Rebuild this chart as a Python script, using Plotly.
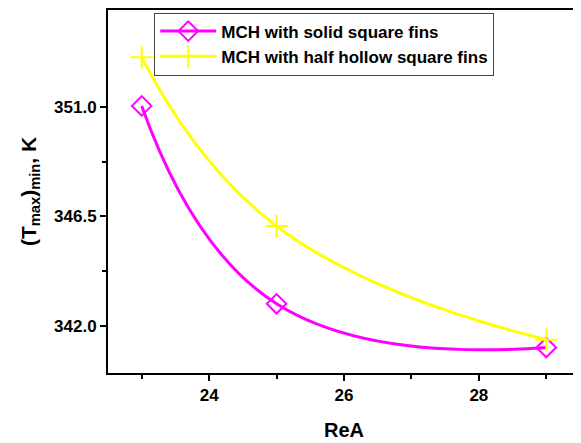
import plotly.graph_objects as go

rea = [23, 25, 29]
solid_fins = [351.05, 342.9, 341.1]
half_hollow_fins = [353.05, 346.1, 341.42]
x_ticks = [24, 26, 28]
y_ticks = [342.0, 346.5, 351.0]
y_tick_labels = ["342.0", "346.5", "351.0"]

FONT = "Liberation Sans, Arial, sans-serif"

fig = go.Figure()
fig.add_trace(go.Scatter(
    x=rea, y=solid_fins, mode="lines+markers",
    name="MCH with solid square fins",
    line=dict(color="#FF00FF", width=3, shape="spline", smoothing=1.3),
    marker=dict(symbol="diamond-open", size=15, color="#FF00FF", line=dict(width=2)),
))
fig.add_trace(go.Scatter(
    x=rea, y=half_hollow_fins, mode="lines+markers",
    name="MCH with half hollow square fins",
    line=dict(color="#FFFF00", width=3, shape="spline", smoothing=1.3),
    marker=dict(symbol="cross-thin-open", size=16, color="#FFFF00", line=dict(width=2, color="#FFFF00")),
))

# page body has an 8px default margin: figure is sized/offset to compensate
fig.update_layout(
    width=573, height=435,
    margin=dict(l=100, r=1, t=2, b=70),
    paper_bgcolor="white", plot_bgcolor="white",
    font=dict(family=FONT, color="black"),
    showlegend=True,
    legend=dict(
        x=0.098, y=0.993, xanchor="left", yanchor="top",
        bgcolor="white", bordercolor="#444", borderwidth=1,
        font=dict(size=17, family=FONT, color="black", weight="bold"),
        itemwidth=56, traceorder="normal",
    ),
)
fig.update_xaxes(
    range=[22.5, 29.5], tickvals=x_ticks, automargin=False,
    ticks="outside", ticklen=6, tickwidth=2, tickcolor="black",
    showline=True, linewidth=2, linecolor="black", mirror=True,
    showgrid=False, zeroline=False,
    tickfont=dict(size=17, family=FONT, weight="bold"),
    minor=dict(tickvals=[23, 25, 27, 29], ticks="outside", ticklen=4, tickwidth=2, tickcolor="black"),
    title=dict(text="ReA", font=dict(size=20, family=FONT, weight="bold"), standoff=19),
)
fig.update_yaxes(
    range=[340.05, 355], tickvals=y_ticks, ticktext=y_tick_labels, automargin=False,
    ticks="outside", ticklen=6, tickwidth=2, tickcolor="black",
    showline=True, linewidth=2, linecolor="black", mirror=True,
    showgrid=False, zeroline=False,
    tickfont=dict(size=17, family=FONT, weight="bold"),
    minor=dict(tickvals=[344.25, 348.75], ticks="outside", ticklen=4, tickwidth=2, tickcolor="black"),
    title=dict(text="(T<sub>max</sub>)<sub>min</sub>, K", font=dict(size=21, family=FONT, weight="bold"), standoff=12),
)

fig.write_html("out.html")
